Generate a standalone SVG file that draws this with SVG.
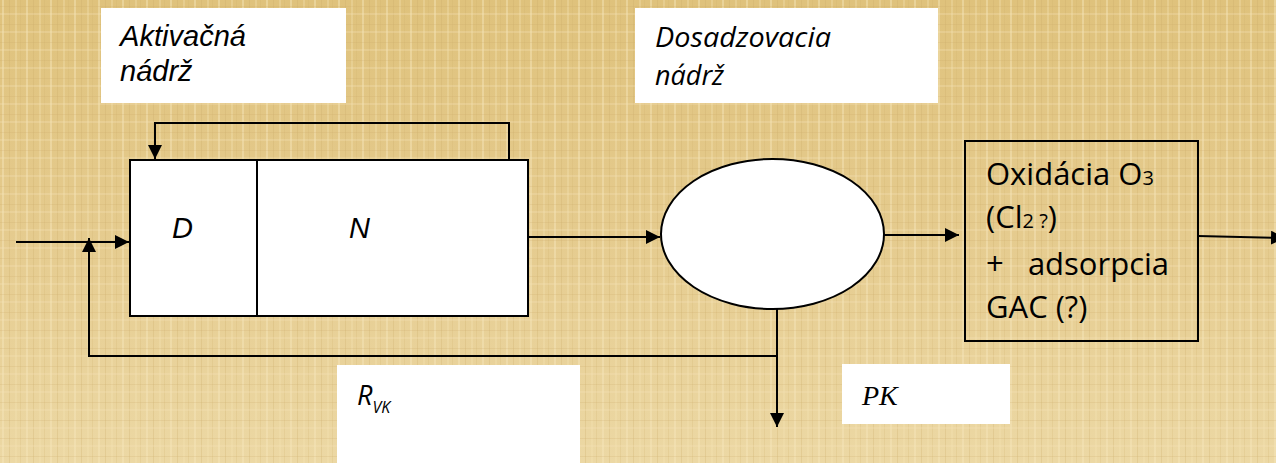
<svg xmlns="http://www.w3.org/2000/svg" width="1276" height="463" viewBox="0 0 1276 463">
  <defs>
    <linearGradient id="paper" x1="0" y1="0" x2="0" y2="1">
      <stop offset="0" stop-color="#dfc27c"/>
      <stop offset="0.5" stop-color="#e5cb8e"/>
      <stop offset="1" stop-color="#ecd8a4"/>
    </linearGradient>
    <pattern id="weave" width="24" height="18" patternUnits="userSpaceOnUse">
      <rect x="2" y="0" width="2" height="18" fill="#f6e6bd" opacity="0.45"/>
      <rect x="9" y="0" width="1" height="18" fill="#c9a862" opacity="0.25"/>
      <rect x="15" y="0" width="2" height="18" fill="#f3e1b2" opacity="0.35"/>
      <rect x="20" y="0" width="1" height="18" fill="#cfae6a" opacity="0.2"/>
      <rect x="0" y="6" width="24" height="1" fill="#c8a662" opacity="0.2"/>
      <rect x="0" y="13" width="24" height="2" fill="#f5e4b8" opacity="0.3"/>
    </pattern>
    <marker id="arrowL" viewBox="0 0 14 14" refX="14" refY="7" markerWidth="14" markerHeight="14" markerUnits="userSpaceOnUse" orient="auto">
      <path d="M0,0 L14,7 L0,14 Z" fill="#000"/>
    </marker>
  </defs>
  <style>
    .label { font-family: "Liberation Sans", Arial, sans-serif; font-style: italic; font-size: 29px; fill: #000; }
    .label2 { font-family: "Open Sans", "Liberation Sans", sans-serif; font-style: italic; font-size: 27px; fill: #000; }
    .box { fill: #fff; stroke: none; }
    .shape { fill: #fff; stroke: #000; stroke-width: 2; }
    .wire { fill: none; stroke: #000; stroke-width: 2; }
    .proc { font-family: "Open Sans", "Liberation Sans", sans-serif; font-size: 31px; fill: #000; }
    .small { font-size: 20px; }
  </style>

  <!-- paper background -->
  <rect width="1276" height="463" fill="url(#paper)"/>
  <rect width="1276" height="463" fill="url(#weave)"/>

  <!-- caption: activation tank -->
  <g id="label-aktivacna">
    <rect class="box" x="101" y="8" width="245" height="95"/>
    <text class="label" x="120" y="46" textLength="126" lengthAdjust="spacingAndGlyphs">Aktivačná</text>
    <text class="label" x="120" y="81">nádrž</text>
  </g>

  <!-- caption: settling tank -->
  <g id="label-dosadzovacia">
    <rect class="box" x="635" y="8" width="303" height="95"/>
    <text class="label2" x="655" y="47" textLength="176" lengthAdjust="spacingAndGlyphs">Dosadzovacia</text>
    <text class="label2" x="655" y="85">nádrž</text>
  </g>

  <!-- activation tank: D and N zones -->
  <g id="tank">
    <rect class="shape" x="130" y="160" width="398" height="156"/>
    <line class="wire" x1="257" y1="160" x2="257" y2="316"/>
    <text class="label" font-size="28" x="172" y="238">D</text>
    <text class="label" font-size="28" x="349" y="238">N</text>
  </g>

  <!-- settling tank -->
  <g id="settler">
    <ellipse class="shape" cx="772.5" cy="234" rx="111.5" ry="75"/>
  </g>

  <!-- tertiary treatment -->
  <g id="oxidation">
    <rect x="965" y="141" width="233" height="200" fill="none" stroke="#000" stroke-width="2"/>
    <text class="proc" x="986" y="185">Oxidácia O<tspan class="small">3</tspan></text>
    <text class="proc" x="986" y="228">(Cl<tspan class="small">2 ?</tspan>)</text>
    <text class="proc" x="986" y="275" xml:space="preserve">+   adsorpcia</text>
    <text class="proc" x="986" y="318">GAC (?)</text>
  </g>

  <!-- caption: sludge recycle -->
  <g id="label-rvk">
    <rect class="box" x="337" y="365" width="243" height="98"/>
    <text class="label2" font-size="25" x="357" y="405">R<tspan font-size="16" dy="8">VK</tspan></text>
  </g>

  <!-- caption: excess sludge -->
  <g id="label-pk">
    <rect class="box" x="842" y="364" width="168" height="60"/>
    <text x="862" y="405" font-family="'Liberation Serif', 'Times New Roman', serif" font-style="italic" font-size="28">PK</text>
  </g>

  <!-- flow lines -->
  <g id="connectors">
    <line class="wire" x1="16" y1="242" x2="129" y2="242" marker-end="url(#arrowL)"/>
    <polyline class="wire" points="509,160 509,123 155,123 155,159" marker-end="url(#arrowL)"/>
    <line class="wire" x1="528" y1="237" x2="660" y2="237" marker-end="url(#arrowL)"/>
    <line class="wire" x1="884" y1="235" x2="959" y2="235" marker-end="url(#arrowL)"/>
    <line class="wire" x1="1198" y1="236" x2="1285" y2="238" marker-end="url(#arrowL)"/>
    <polyline class="wire" points="777,309 777,356 89,356 89,238" marker-end="url(#arrowL)"/>
    <line class="wire" x1="777" y1="356" x2="777" y2="427" marker-end="url(#arrowL)"/>
  </g>
</svg>
